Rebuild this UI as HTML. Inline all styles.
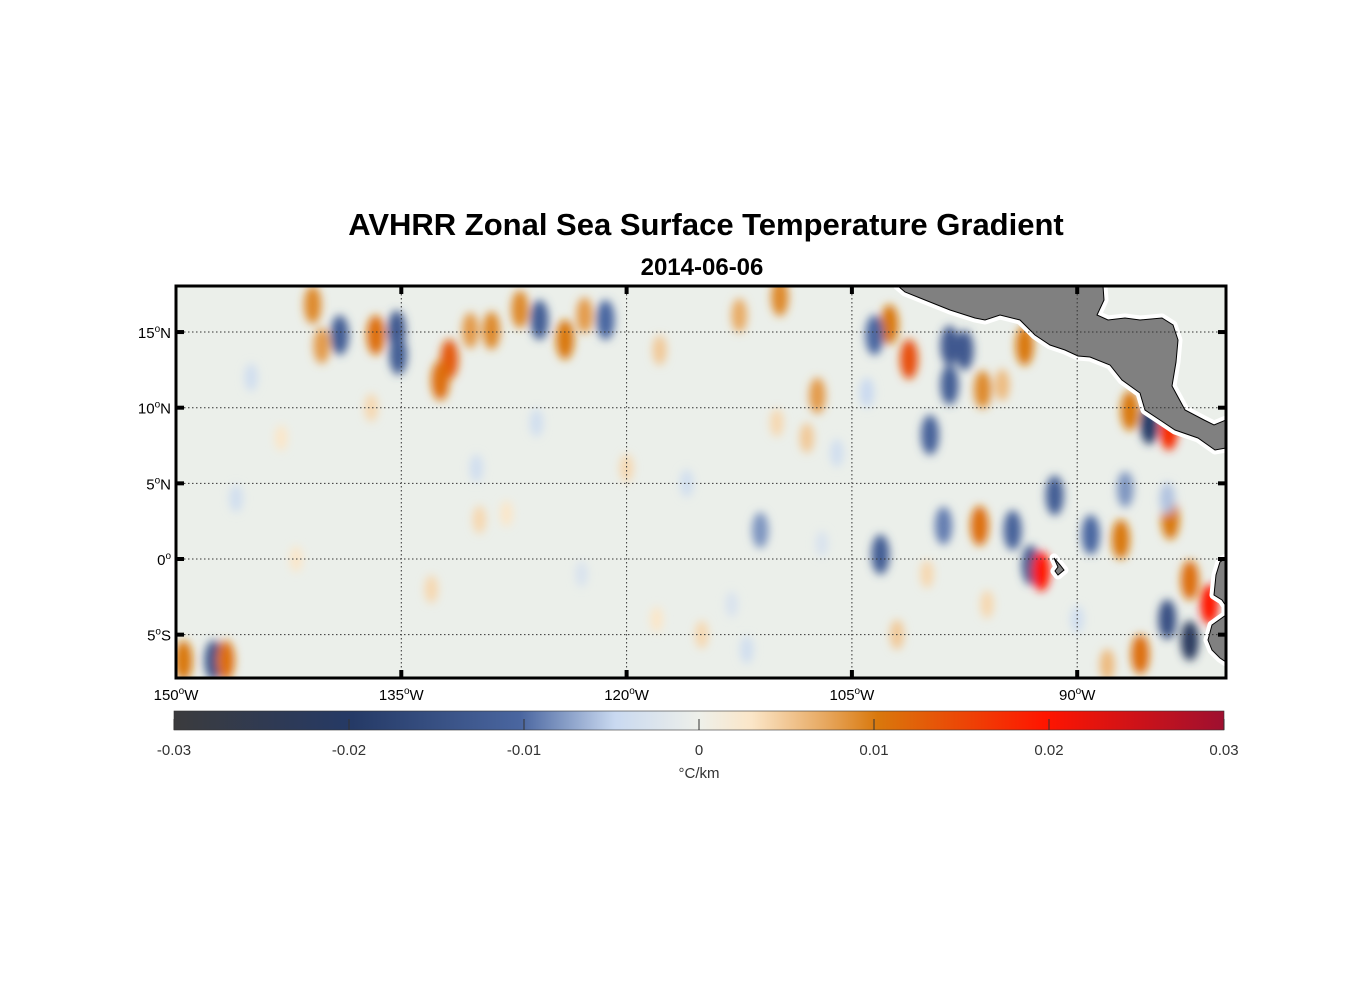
<!DOCTYPE html>
<html><head><meta charset="utf-8"><style>
body{margin:0;background:#fff;width:1356px;height:1000px;overflow:hidden;font-family:"Liberation Sans",sans-serif}
svg{position:absolute;left:0;top:0}
</style></head><body>
<svg width="1356" height="1000" id="chart" xmlns="http://www.w3.org/2000/svg">
<defs>
<filter id="blur" x="-50%" y="-50%" width="200%" height="200%"><feGaussianBlur stdDeviation="4.5"/></filter>
<clipPath id="mapclip"><rect x="176" y="286" width="1050" height="392"/></clipPath>
<linearGradient id="cbar" x1="0" x2="1" y1="0" y2="0">
<stop offset="0" stop-color="#3b3b3d"/><stop offset="0.17" stop-color="#253a66"/><stop offset="0.33" stop-color="#4a66a0"/>
<stop offset="0.42" stop-color="#c9d9f0"/><stop offset="0.5" stop-color="#eef0ea"/><stop offset="0.55" stop-color="#fbe6c8"/>
<stop offset="0.62" stop-color="#e7a860"/><stop offset="0.67" stop-color="#d9780c"/><stop offset="0.83" stop-color="#ff1500"/><stop offset="1" stop-color="#9e1030"/>
</linearGradient>
</defs>
<text x="706" y="235" text-anchor="middle" font-size="31" font-weight="bold">AVHRR Zonal Sea Surface Temperature Gradient</text>
<text x="702" y="275" text-anchor="middle" font-size="24" font-weight="bold">2014-06-06</text>
<rect x="176" y="286" width="1050" height="392" fill="#ebefea"/>
<g id="field" clip-path="url(#mapclip)" filter="url(#blur)"></g>
<g id="land" clip-path="url(#mapclip)">
<g fill="#fff" stroke="#fff" stroke-width="9" stroke-linejoin="round">
<path d="M898,286 L905,292 L925,300 L950,310 L975,318 L985,320 L1000,315 L1020,320 L1035,335 L1050,345 L1065,350 L1078,356 L1090,357 L1110,365 L1122,380 L1140,393 L1145,410 L1160,420 L1175,430 L1198,438 L1215,450 L1226,448 L1226,420 L1214,425 L1204,420 L1185,410 L1172,386 L1176,362 L1178,340 L1173,325 L1162,318 L1140,320 L1125,318 L1108,320 L1097,315 L1104,300 L1103,286 Z"/>
<path d="M1226,558 L1220,562 L1216,575 L1214,595 L1222,600 L1226,606 L1226,615 L1212,625 L1208,640 L1212,650 L1220,658 L1226,662 Z"/>
<path d="M1054,558 L1060,565 L1064,570 L1058,575 L1055,571 L1058,567 Z"/>
</g>
<path d="M898,286 L905,292 L925,300 L950,310 L975,318 L985,320 L1000,315 L1020,320 L1035,335 L1050,345 L1065,350 L1078,356 L1090,357 L1110,365 L1122,380 L1140,393 L1145,410 L1160,420 L1175,430 L1198,438 L1215,450 L1226,448 L1226,420 L1214,425 L1204,420 L1185,410 L1172,386 L1176,362 L1178,340 L1173,325 L1162,318 L1140,320 L1125,318 L1108,320 L1097,315 L1104,300 L1103,286 Z" fill="#808080" stroke="#000" stroke-width="1"/>
<path d="M1226,558 L1220,562 L1216,575 L1214,595 L1222,600 L1226,606 L1226,615 L1212,625 L1208,640 L1212,650 L1220,658 L1226,662 Z" fill="#808080" stroke="#000" stroke-width="1"/>
<path d="M1054,558 L1060,565 L1064,570 L1058,575 L1055,571 L1058,567 Z" fill="#808080" stroke="#000" stroke-width="1"/>
</g>
<g id="grid"></g>
<rect x="176" y="286" width="1050" height="392" fill="none" stroke="#000" stroke-width="3"/>
<g id="axes" font-size="15"></g>
<rect x="174" y="711" width="1050" height="19" fill="url(#cbar)" stroke="#333" stroke-width="0.6"/>
<g id="cbticks" font-size="15" fill="#333"></g>
<text x="699" y="778" text-anchor="middle" font-size="15" fill="#333">°C/km</text>
</svg>
<script>
const blobLon=[-140.9,-140.3,-139.1,-136.7,-135.3,-135.2,-131.8,-132.4,-130.4,-129,-127.1,-125.8,-124.1,-122.8,-121.4,-117.8,-112.5,-109.8,-107.3,-102.5,-101.2,-103.5,-98.5,-97.5,-93.5,-98.5,-96.3,-95,-86.5,-85.2,-83.9,-99.8,-91.5,-96.5,-98.9,-94.3,-89.1,-87.1,-86.8,-83.8,-103.1,-93.1,-92.4,-82.5,-81.2,-82.5,-84,-85.8,-147.5,-149.5,-146.7,-111.1,-129.8,-145,-143,-137,-126,-120,-116,-110,-108,-106,-104,-146,-133,-128,-118,-113,-100,-90,-142,-130,-123,-115,-107,-112,-88,-84,-96,-102];
const blobLat=[16.8,14.1,14.8,14.8,15.1,13.5,13.2,11.8,15.1,15.1,16.5,15.8,14.5,16.1,15.8,13.8,16.1,17.3,10.8,15.5,13.2,14.8,14.1,13.8,14.1,11.5,11.2,11.5,9.8,8.9,8.5,8.2,4.2,2.2,2.2,1.9,1.6,1.3,4.6,2.6,0.3,-0.4,-0.8,-1.4,-3,-5.4,-4,-6.3,-6.7,-6.7,-6.7,1.9,2.6,12,8,10,9,6,5,9,8,7,11,4,-2,3,-4,-3,-1,-4,0,6,-1,-5,1,-6,-7,4,-3,-5];
const blobVal=[0.009,0.008,-0.012,0.011,-0.013,-0.012,0.013,0.011,0.008,0.009,0.009,-0.012,0.01,0.008,-0.01,0.005,0.007,0.009,0.008,0.01,0.014,-0.01,-0.013,-0.013,0.01,-0.012,0.009,0.006,0.01,-0.02,0.018,-0.011,-0.012,0.011,-0.009,-0.011,-0.01,0.01,-0.008,0.01,-0.012,-0.013,0.02,0.011,0.02,-0.022,-0.015,0.011,-0.014,0.01,0.011,-0.008,0.004,-0.004,0.003,0.004,-0.004,0.004,-0.004,0.004,0.005,-0.004,-0.005,-0.004,0.004,0.003,0.003,-0.003,0.004,-0.004,0.003,-0.004,-0.003,0.004,-0.003,-0.004,0.006,-0.006,0.004,0.005];
const xTicks=[-150,-135,-120,-105,-90];
const yTicks=[15,10,5,0,-5];
const cbTicks=[-0.03,-0.02,-0.01,0,0.01,0.02,0.03];
const cbLabels=["-0.03","-0.02","-0.01","0","0.01","0.02","0.03"];
const NS="http://www.w3.org/2000/svg";
function xs(lon){return 176+(lon+150)*15.02;}
function ys(lat){return 559-lat*15.13;}
function cs(v){return 174+(v+0.03)/0.06*1050;}
const stops=[[-0.03,[59,59,61]],[-0.02,[37,58,102]],[-0.01,[74,102,160]],[-0.005,[201,217,240]],[0,[238,240,234]],[0.003,[251,230,200]],[0.0072,[231,168,96]],[0.01,[217,120,12]],[0.02,[255,21,0]],[0.03,[158,16,48]]];
function col(v){v=Math.max(-0.03,Math.min(0.03,v));for(let i=0;i<stops.length-1;i++){const a=stops[i],b=stops[i+1];if(v<=b[0]){const t=(v-a[0])/(b[0]-a[0]);return 'rgb('+a[1].map((c,k)=>Math.round(c+(b[1][k]-c)*t)).join(',')+')';}}return 'rgb(158,16,48)';}
const field=document.getElementById('field');
blobLon.forEach((lon,i)=>{const e=document.createElementNS(NS,'ellipse');
const s=Math.min(1,Math.abs(blobVal[i])/0.01);
e.setAttribute('cx',xs(lon));e.setAttribute('cy',ys(blobLat[i]));
e.setAttribute('rx',5+4*s);e.setAttribute('ry',10+10*s);e.setAttribute('fill',col(blobVal[i]));


field.appendChild(e);});
const grid=document.getElementById('grid'),axes=document.getElementById('axes');
xTicks.forEach(t=>{const x=xs(t);
if(t>-150){const l=document.createElementNS(NS,'line');l.setAttribute('x1',x);l.setAttribute('x2',x);l.setAttribute('y1',286);l.setAttribute('y2',678);l.setAttribute('stroke','#333');l.setAttribute('stroke-dasharray','1.5,2.5');


grid.appendChild(l);
['286','670'].forEach(y=>{const m=document.createElementNS(NS,'rect');m.setAttribute('x',x-2);m.setAttribute('y',y);m.setAttribute('width',4);m.setAttribute('height',8);


grid.appendChild(m);});}
const tx=document.createElementNS(NS,'text');tx.setAttribute('x',x);tx.setAttribute('y',700);tx.setAttribute('text-anchor','middle');
tx.innerHTML=Math.abs(t)+'<tspan dy="-6" font-size="10">o</tspan><tspan dy="6">W</tspan>';


axes.appendChild(tx);});
yTicks.forEach(t=>{const y=ys(t);
const l=document.createElementNS(NS,'line');l.setAttribute('x1',176);l.setAttribute('x2',1226);l.setAttribute('y1',y);l.setAttribute('y2',y);l.setAttribute('stroke','#333');l.setAttribute('stroke-dasharray','1.5,2.5');


grid.appendChild(l);
[176,1218].forEach(x=>{const m=document.createElementNS(NS,'rect');m.setAttribute('x',x);m.setAttribute('y',y-2);m.setAttribute('width',8);m.setAttribute('height',4);


grid.appendChild(m);});
const tx=document.createElementNS(NS,'text');tx.setAttribute('x',171);tx.setAttribute('y',y+6);tx.setAttribute('text-anchor','end');
const h=t>0?'N':(t<0?'S':'');
tx.innerHTML=Math.abs(t)+'<tspan dy="-6" font-size="10">o</tspan><tspan dy="6">'+h+'</tspan>';


axes.appendChild(tx);});
const cb=document.getElementById('cbticks');
cbTicks.forEach((v,i)=>{const x=cs(v);
const l=document.createElementNS(NS,'line');l.setAttribute('x1',x);l.setAttribute('x2',x);l.setAttribute('y1',719);l.setAttribute('y2',730);l.setAttribute('stroke','#333');


cb.appendChild(l);
const tx=document.createElementNS(NS,'text');tx.setAttribute('x',x);tx.setAttribute('y',755);tx.setAttribute('text-anchor','middle');tx.textContent=cbLabels[i];


cb.appendChild(tx);});
</script>
</body></html>
